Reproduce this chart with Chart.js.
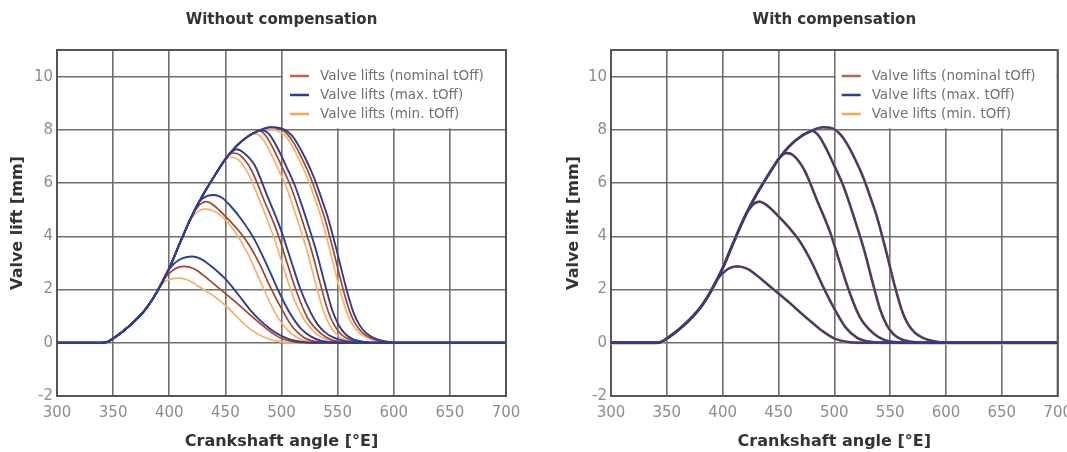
<!DOCTYPE html>
<html>
<head>
<meta charset="utf-8">
<title>Valve lifts</title>
<script src="https://cdn.jsdelivr.net/npm/chart.js@4.4.1/dist/chart.umd.min.js"></script>
<style>
  html, body { margin: 0; padding: 0; background: #fff; }
  body { width: 1067px; height: 452px; overflow: hidden; position: relative; }
  canvas { position: absolute; top: 0; }
  #chartLeft { left: 0; }
  #chartRight { left: 540px; }
</style>
</head>
<body>
<canvas id="chartLeft" width="540" height="452"></canvas>
<canvas id="chartRight" width="540" height="452"></canvas>
<script>
// axis ranges
const angleMin = 300, angleMax = 700, angleStep = 50;
const liftMin = -2, liftMax = 11, liftStep = 2;

const legendLabels = ["Valve lifts (nominal tOff)", "Valve lifts (max. tOff)", "Valve lifts (min. tOff)"];

// common opening flank of the cam (angle [°E], lift [mm])
const riseAngle = [300, 340, 345, 350, 360, 370, 380, 390, 400, 410, 420, 430, 440, 450, 460, 470, 480, 490];
const riseLift  = [0, 0, 0.03, 0.16, 0.47, 0.85, 1.32, 1.98, 2.8, 3.8, 4.75, 5.55, 6.25, 6.9, 7.4, 7.75, 7.97, 8.1];

// valve stays closed to the end of the axis
const closedTail = [[700, 0]];

// closing flanks, nominal tOff (same as all curves with compensation)
const nominal1 = [[394, 2.31], [403, 2.72], [413, 2.87], [422, 2.78], [430, 2.55], [440, 2.2], [450, 1.85], [460, 1.5], [470, 1.12], [480, 0.76], [490, 0.42], [500, 0.16], [510, 0.04], [520, 0]];
const nominal2 = [[422, 4.91], [428, 5.22], [433, 5.3], [440, 5.15], [450, 4.75], [460, 4.3], [470, 3.75], [480, 3.0], [490, 2.1], [500, 1.28], [510, 0.58], [520, 0.2], [530, 0.05], [540, 0.01], [550, 0]];
const nominal3 = [[446, 6.64], [452, 7.0], [457, 7.13], [463, 7.05], [473, 6.5], [485, 5.3], [496, 4.18], [505, 3.0], [514, 1.85], [523, 0.95], [535, 0.35], [545, 0.1], [555, 0.02], [565, 0]];
const nominal4 = [[476, 7.9], [480, 7.96], [486, 7.78], [493, 7.27], [500, 6.65], [508, 5.9], [514, 5.18], [520, 4.4], [527, 3.44], [535, 2.15], [541, 1.25], [547, 0.66], [553, 0.32], [560, 0.13], [570, 0.03], [580, 0]];
const nominal5 = [[500, 8.02], [506, 7.8], [511, 7.5], [518, 6.95], [526, 6.2], [532, 5.5], [538, 4.75], [546, 3.5], [554, 2.15], [561, 1.15], [566, 0.7], [572, 0.38], [580, 0.17], [590, 0.05], [600, 0]];

// closing flanks, max. tOff, without compensation
const max1 = [[398, 2.64], [405, 3.0], [412, 3.18], [420, 3.24], [428, 3.15], [436, 2.92], [443, 2.68], [450, 2.4], [458, 2.0], [465, 1.62], [472, 1.24], [481, 0.84], [490, 0.52], [499, 0.28], [508, 0.12], [517, 0.04], [528, 0]];
const max2 = [[427, 5.32], [433, 5.5], [440, 5.55], [447, 5.45], [455, 5.12], [464, 4.65], [475, 3.95], [487, 2.92], [499, 1.8], [505, 1.3], [511, 0.88], [518, 0.5], [526, 0.24], [535, 0.08], [545, 0.02], [555, 0]];
const max3 = [[452, 7.0], [456, 7.18], [460, 7.27], [466, 7.15], [476, 6.68], [487, 5.55], [499, 4.3], [508, 3.15], [517, 2.0], [526, 1.13], [532, 0.7], [538, 0.42], [546, 0.2], [556, 0.07], [566, 0.01], [575, 0]];
const max4 = [[476, 7.9], [481, 7.98], [485, 7.96], [490, 7.78], [497, 7.27], [504, 6.65], [512, 5.9], [518, 5.18], [524, 4.4], [531, 3.44], [539, 2.15], [545, 1.25], [551, 0.66], [557, 0.32], [564, 0.13], [574, 0.03], [584, 0]];
const max5 = [[497, 8.08], [503, 8.0], [509, 7.8], [514, 7.5], [521, 6.95], [529, 6.2], [535, 5.5], [541, 4.75], [549, 3.5], [557, 2.15], [564, 1.15], [569, 0.7], [575, 0.38], [583, 0.17], [593, 0.05], [603, 0]];

// closing flanks, min. tOff, without compensation
const min1 = [[391, 2.06], [396, 2.3], [402, 2.4], [409, 2.43], [416, 2.37], [424, 2.18], [430, 2.02], [440, 1.75], [450, 1.4], [458, 1.08], [465, 0.78], [472, 0.52], [480, 0.3], [488, 0.15], [496, 0.06], [505, 0.01], [512, 0]];
const min2 = [[418, 4.56], [424, 4.88], [431, 5.02], [438, 4.98], [446, 4.78], [458, 4.2], [470, 3.35], [482, 2.22], [494, 1.15], [500, 0.75], [506, 0.46], [513, 0.22], [520, 0.09], [530, 0.02], [540, 0]];
const min3 = [[444, 6.51], [450, 6.85], [455, 6.98], [461, 6.9], [470, 6.38], [481, 5.3], [493, 3.98], [502, 2.8], [511, 1.66], [520, 0.88], [526, 0.55], [532, 0.3], [540, 0.12], [548, 0.04], [558, 0]];
const min4 = [[472, 7.8], [476, 7.86], [482, 7.72], [489, 7.25], [496, 6.62], [504, 5.88], [510, 5.15], [516, 4.38], [523, 3.42], [531, 2.13], [537, 1.24], [543, 0.65], [549, 0.31], [556, 0.12], [566, 0.03], [576, 0]];
const min5 = [[486, 8.04], [492, 8.02], [497, 7.95], [503, 7.8], [508, 7.5], [515, 6.95], [523, 6.2], [529, 5.5], [535, 4.75], [543, 3.5], [551, 2.15], [558, 1.15], [563, 0.7], [569, 0.38], [577, 0.17], [587, 0.05], [597, 0]];

const nominalFlanks = [nominal1, nominal2, nominal3, nominal4, nominal5];
const maxFlanks = [max1, max2, max3, max4, max5];
const minFlanks = [min1, min2, min3, min4, min5];

// styles
const colNominal = "#a5442b";
const colMax = "#2c3f8e";
const colMin = "#f5b06e";
const legendColors = ["#c0614a", colMax, "#f5a64f"];
const gridColor = "#6e6e6e";
const frameColor = "#555";
const fontFamily = "'DejaVu Sans', sans-serif";

// opening flank up to where the closing flank starts, then the closing flank
function buildCurve(flank) {
    const start = flank[0][0];
    let pts = [];
    riseAngle.forEach((a, i) => {
        if (a < start) pts.push({ x: a, y: riseLift[i] });
    });
    flank.concat(closedTail).forEach(p => pts.push({ x: p[0], y: p[1] }));
    return pts;
}

function makeSets(flanks, color, width, order) {
    return flanks.map(f => ({
        data: buildCurve(f),
        borderColor: color,
        borderWidth: width,
        pointRadius: 0,
        fill: false,
        cubicInterpolationMode: "monotone",
        order: order
    }));
}

const frameAndLegend = {
    id: "frameAndLegend",
    beforeDatasetsDraw(chart) {
        const { ctx, chartArea: a, scales } = chart;
        const xb = scales.x.getPixelForValue(500);
        const yb = scales.y.getPixelForValue(8);
        ctx.save();
        // white legend box blanks the grid in the top right cell block
        ctx.fillStyle = "#fff";
        ctx.fillRect(xb + 1.5, a.top + 1, a.right - xb - 2.5, yb - a.top - 2.5);
        ctx.strokeStyle = frameColor;
        ctx.lineWidth = 2;
        ctx.strokeRect(a.left, a.top, a.right - a.left, a.bottom - a.top);
        ctx.restore();
    },
    afterDraw(chart) {
        const { ctx, chartArea: a } = chart;
        ctx.save();
        ctx.font = "13.5px " + fontFamily;
        ctx.textBaseline = "middle";
        legendLabels.forEach((label, i) => {
            const y = a.top + 26 + i * 19;
            ctx.strokeStyle = legendColors[i];
            ctx.lineWidth = 2.5;
            ctx.beginPath();
            ctx.moveTo(a.right - 216, y);
            ctx.lineTo(a.right - 197, y);
            ctx.stroke();
            ctx.fillStyle = "#707070";
            ctx.fillText(label, a.right - 186, y);
        });
        ctx.restore();
    }
};

function makeChart(canvasId, titleText, datasets, pad, yAxisWidth) {
    const ctx = document.getElementById(canvasId).getContext("2d");
    return new Chart(ctx, {
        type: "line",
        data: { datasets: datasets },
        options: {
            responsive: false,
            animation: false,
            events: [],
            devicePixelRatio: 1,
            layout: { padding: pad, autoPadding: false },
            scales: {
                x: {
                    type: "linear",
                    min: angleMin,
                    max: angleMax,
                    grid: { color: gridColor, lineWidth: 1.6, drawTicks: false, tickLength: 0 },
                    border: { color: frameColor, width: 2 },
                    ticks: {
                        stepSize: angleStep,
                        padding: 8,
                        color: "#8c8c8c",
                        font: { family: fontFamily, size: 15 }
                    },
                    title: {
                        display: true,
                        text: "Crankshaft angle [°E]",
                        color: "#333",
                        font: { family: fontFamily, size: 16, weight: "bold" },
                        padding: { top: 0, bottom: 1 }
                    },
                    afterFit: function (scale) { scale.height = 56; }
                },
                y: {
                    type: "linear",
                    min: liftMin,
                    max: liftMax,
                    grid: { color: gridColor, lineWidth: 1.6, drawTicks: false, tickLength: 0 },
                    border: { color: frameColor, width: 2 },
                    ticks: {
                        stepSize: liftStep,
                        includeBounds: false,
                        padding: 4,
                        color: "#8c8c8c",
                        font: { family: fontFamily, size: 15 }
                    },
                    title: {
                        display: true,
                        text: "Valve lift [mm]",
                        color: "#333",
                        font: { family: fontFamily, size: 16, weight: "bold" },
                        padding: { top: 8, bottom: 0 }
                    },
                    afterFit: function (scale) { scale.width = yAxisWidth; }
                }
            },
            plugins: {
                legend: { display: false },
                tooltip: { enabled: false },
                title: {
                    display: true,
                    text: titleText,
                    fullSize: false,
                    color: "#333",
                    font: { family: fontFamily, size: 15, weight: "bold" },
                    padding: { top: 11, bottom: 21 }
                }
            }
        },
        plugins: [frameAndLegend]
    });
}

// without compensation: the three tOff cases split apart
const leftSets = makeSets(maxFlanks, colMax, 1.9, 0)
    .concat(makeSets(nominalFlanks, colNominal, 1.7, 1))
    .concat(makeSets(minFlanks, colMin, 1.7, 2));

// with compensation: all three tOff cases land on the nominal curve
const rightSets = makeSets(nominalFlanks, colMax, 1.8, 0)
    .concat(makeSets(nominalFlanks, colNominal, 2.4, 1))
    .concat(makeSets(nominalFlanks, colMin, 2.8, 2));

makeChart("chartLeft", "Without compensation", leftSets, { left: 0, right: 34, top: 0, bottom: 0 }, 57);
makeChart("chartRight", "With compensation", rightSets, { left: 16, right: 21, top: 0, bottom: 0 }, 55);
</script>
</body>
</html>
